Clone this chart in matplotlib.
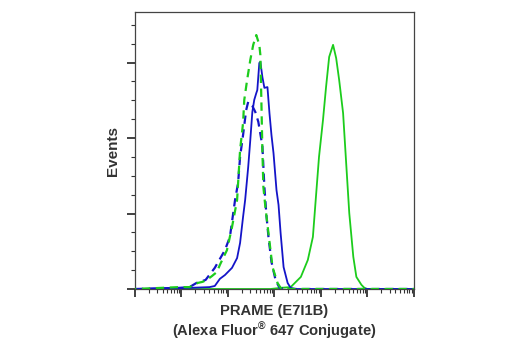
import matplotlib
matplotlib.use("Agg")
import matplotlib.pyplot as plt
from matplotlib.ticker import LogLocator, MultipleLocator, NullFormatter

plt.rcParams["font.family"] = ["Liberation Sans", "DejaVu Sans"]
plt.rcParams["mathtext.fontset"] = "custom"
plt.rcParams["mathtext.rm"] = "Liberation Sans:bold"
plt.rcParams["mathtext.it"] = "Liberation Sans:bold"
plt.rcParams["mathtext.bf"] = "Liberation Sans:bold"
plt.rcParams["lines.scale_dashes"] = False

# fluorescence intensity (log axis) and event counts for each histogram
green_dash_x = [1, 9.0, 14.9, 22.3, 28.5, 34.9, 44.9, 57.7, 67, 95, 122, 157, 182, 211, 224,
                258, 302, 349, 406, 472, 497, 522, 549, 577, 638, 742, 907, 1162, 1355, 1738, 1e6]
green_dash_y = [0, 0.5, 0.5, 1.6, 1.9, 2.4, 3.4, 4.5, 6.4, 10.3, 16.4, 23.6, 36.8, 44.0, 50.1,
                55.4, 60.7, 64.7, 67.3, 64.7, 62.0, 50.1, 36.8, 27.0, 21.7, 14.8, 5.8, 1.6, 0.3, 0, 0]

blue_dash_x = [1, 9, 14.9, 21, 33, 52, 86, 110, 142, 165, 182, 211, 246, 272, 302, 334, 387,
               449, 497, 549, 607, 670, 742, 861, 1054, 1284, 1650, 1e6]
blue_dash_y = [0, 0.3, 0.5, 1.6, 2.4, 5.6, 10.3, 13.8, 23.6, 28.1, 35.0, 40.8, 47.4, 49.6, 49.0,
               48.5, 46.9, 44.3, 41.1, 37.9, 27.0, 19.6, 13.8, 7.2, 2.4, 0.3, 0, 0]

blue_solid_x = [1, 14.9, 40, 52, 67, 86, 122, 157, 182, 211, 234, 272, 302, 334, 367, 406, 427,
                472, 497, 549, 607, 706, 780, 861, 953, 1105, 1222, 1355, 1570, 1918, 2228, 2870, 1e6]
blue_solid_y = [0, 0.3, 0.5, 0.8, 2.7, 3.7, 5.6, 8.2, 12.2, 19.1, 23.6, 32.3, 39.5, 46.9, 50.1,
                51.9, 52.7, 59.9, 60.2, 56.2, 53.3, 53.5, 46.6, 40.8, 36.0, 26.2, 22.3, 14.8, 5.8,
                1.6, 0.3, 0, 0]

green_solid_x = [1, 820, 1355, 2228, 3690, 5215, 6700, 7790, 9070, 11050, 12850, 15000, 18200,
                 21200, 24600, 29900, 34800, 40600, 49600, 57700, 74100, 86000, 100000, 1e6]
green_solid_y = [0, 0, 0.3, 0.5, 3.2, 7.7, 13.8, 24.4, 35.0, 44.8, 53.5, 61.5, 64.7, 61.2, 55.4,
                 46.6, 33.4, 20.1, 8.5, 3.2, 1.1, 0.3, 0, 0]

GREEN = "#1ccc1c"
BLUE = "#1414c8"
TEXT = "#333333"

fig = plt.figure(figsize=(5.2, 3.5), dpi=100)
ax = fig.add_axes([0.2596, 0.1743, 0.5365, 0.7914])

ax.plot(green_solid_x, green_solid_y, color=GREEN, lw=1.3, zorder=2)
ax.plot(blue_solid_x, blue_solid_y, color=BLUE, lw=1.3, zorder=3)
ax.plot(blue_dash_x, blue_dash_y, color=BLUE, lw=1.6, ls=(0, (6, 4)), zorder=4)
ax.plot(green_dash_x, green_dash_y, color=GREEN, lw=1.6, ls=(5, (6, 4)), zorder=5)

ax.set_xscale("log")
ax.set_xlim(1, 1e6)
ax.set_ylim(0, 73.4)
ax.xaxis.set_major_locator(LogLocator(base=10, numticks=10))
ax.xaxis.set_minor_locator(LogLocator(base=10, subs=range(2, 10), numticks=20))
ax.xaxis.set_major_formatter(NullFormatter())
ax.xaxis.set_minor_formatter(NullFormatter())
ax.yaxis.set_major_locator(MultipleLocator(20))
ax.yaxis.set_minor_locator(MultipleLocator(5))
ax.yaxis.set_major_formatter(NullFormatter())

ax.tick_params(which="major", direction="out", length=6, width=1.3, color=TEXT)
ax.tick_params(which="minor", direction="out", length=3, width=0.8, color=TEXT)
for sp in ax.spines.values():
    sp.set_color("#444444")
    sp.set_linewidth(0.9)

ax.set_ylabel("Events", fontsize=11, fontweight="bold", color=TEXT, labelpad=1)
ax.set_xlabel("PRAME (E7I1B)\n(Alexa Fluor$^{®}$ 647 Conjugate)", fontsize=10.6,
              fontweight="bold", color=TEXT, labelpad=1.5, linespacing=1.1)

fig.savefig("out.png", dpi=100, facecolor="white")
